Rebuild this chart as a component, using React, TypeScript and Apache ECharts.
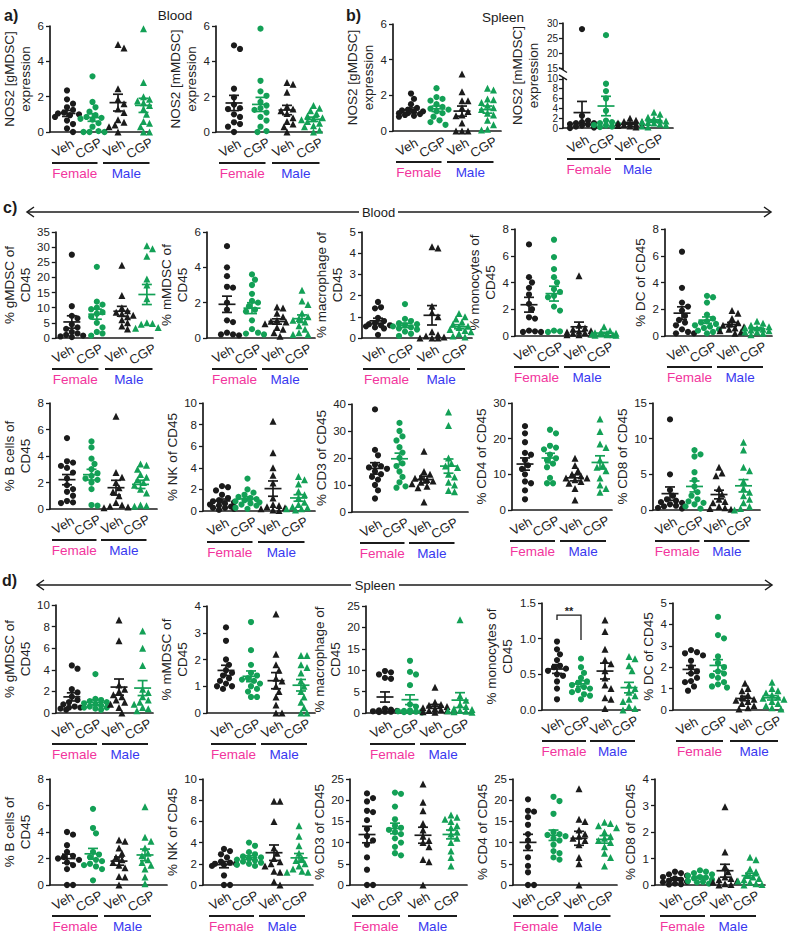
import React, { useEffect, useRef } from 'react';
import * as echarts from 'echarts';

const FONT = "'Liberation Sans', Arial, Helvetica, sans-serif";
const BLACK = '#1b1b1b';
const GREEN = '#13a056';
const PINK = '#f2359d';
const BLUE = '#3838f0';

const TREATMENTS = ['Veh', 'CGP', 'Veh', 'CGP'];
const SEXES = ['Female', 'Male'];

// ---------- data: [Female Veh, Female CGP, Male Veh, Male CGP] ----------
const bloodNos2G = [
  [2.35, 1.85, 1.6, 1.4, 1.25, 1.1, 1.05, 1.0, 0.95, 0.85, 0.65, 0.45, 0.2, 0.0],
  [3.15, 1.7, 1.4, 1.15, 0.95, 0.85, 0.8, 0.75, 0.7, 0.5, 0.3, 0.05, 0.0, 0.0, 0.0],
  [4.95, 4.75, 2.45, 1.85, 1.6, 1.3, 1.1, 0.7, 0.55, 0.4, 0.3, 0.0],
  [5.85, 2.8, 2.0, 1.85, 1.75, 1.65, 1.5, 1.3, 1.0, 0.6, 0.5, 0.3, 0.0, 0.0],
];
const bloodNos2M = [
  [4.9, 4.7, 2.45, 1.95, 1.55, 1.35, 1.3, 1.0, 0.85, 0.55, 0.45, 0.3, 0.0],
  [5.85, 2.9, 2.3, 2.05, 1.7, 1.5, 1.25, 1.35, 1.1, 0.85, 0.65, 0.3, 0.05, 0.0],
  [2.8, 2.7, 2.25, 1.45, 1.3, 1.2, 1.05, 0.8, 0.6, 0.45, 0.3, 0.0],
  [1.5, 1.35, 1.2, 1.05, 0.9, 0.8, 0.75, 0.7, 0.6, 0.5, 0.35, 0.3, 0.1, 0.0],
];
const spleenNos2G = [
  [2.1, 1.8, 1.5, 1.3, 1.2, 1.15, 1.1, 1.05, 1.0, 1.0, 0.95, 0.9, 0.85, 0.8],
  [2.4, 1.9, 1.8, 1.7, 1.5, 1.35, 1.25, 1.2, 1.1, 1.0, 0.8, 0.6, 0.5, 0.35],
  [3.2, 2.2, 1.7, 1.7, 1.3, 1.1, 0.9, 0.85, 0.45, 0.0, 0.0, 0.0],
  [2.4, 2.3, 1.8, 1.75, 1.6, 1.45, 1.3, 1.2, 1.0, 0.9, 0.6, 0.35, 0.1, 0.05],
];
const spleenNos2M = [
  [28, 2.5, 1.5, 1.2, 1.0, 1.0, 0.8, 0.7, 0.5, 0.3, 0.1, 0.0],
  [26, 9.0, 7.5, 6.0, 3.5, 1.5, 1.2, 1.0, 0.8, 0.6, 0.5, 0.3, 0.2],
  [2.0, 1.6, 1.3, 1.2, 1.0, 0.9, 0.8, 0.7, 0.6, 0.5, 0.4, 0.2],
  [3.2, 2.8, 2.2, 1.9, 1.6, 1.4, 1.3, 1.1, 1.0, 0.8, 0.6, 0.4, 0.2],
];
const bloodGMDSC = [
  [27.5, 10.5, 7.3, 6.5, 4.5, 3.5, 3.0, 2.0, 1.5, 1.0, 0.8, 0.5, 0.3],
  [23.5, 12, 11, 10, 9.5, 8.5, 8, 7, 5, 3.5, 2, 1.5, 0.8],
  [24, 14, 10, 9, 8.5, 8, 7.5, 7, 6, 5, 4, 3],
  [30.5, 29.5, 27, 19.5, 17.5, 13, 5, 4.8, 4.5, 3.5, 3.2],
];
const bloodMMDSC = [
  [5.2, 4.0, 3.5, 2.9, 2.85, 2.0, 1.6, 1.0, 0.9, 0.3, 0.2, 0.2, 0.15],
  [3.6, 3.3, 3.0, 2.5, 2.1, 2.0, 1.8, 1.6, 1.5, 1.0, 0.5, 0.3, 0.25, 0.2],
  [1.75, 1.7, 1.4, 1.2, 1.0, 0.95, 0.9, 0.8, 0.6, 0.5, 0.3, 0.1],
  [2.7, 2.1, 1.9, 1.4, 1.2, 1.1, 1.0, 0.9, 0.7, 0.5, 0.3, 0.2, 0.2],
];
const bloodMacrophage = [
  [1.7, 1.45, 1.4, 0.95, 0.8, 0.7, 0.65, 0.6, 0.6, 0.55, 0.5, 0.45, 0.15],
  [1.6, 0.9, 0.8, 0.7, 0.65, 0.6, 0.55, 0.5, 0.45, 0.4, 0.3, 0.2, 0.1],
  [4.3, 4.25, 1.5, 1.2, 1.0, 0.3, 0.15, 0.1, 0.05, 0.0, 0.0, 0.0],
  [1.15, 1.0, 0.9, 0.75, 0.65, 0.55, 0.5, 0.4, 0.35, 0.3, 0.2, 0.1, 0.05],
];
const bloodMonocytes = [
  [6.85, 4.4, 4.0, 3.6, 3.1, 2.4, 2.0, 1.4, 1.3, 0.4, 0.35, 0.3, 0.3],
  [7.2, 5.9, 5.0, 4.4, 4.0, 3.5, 3.3, 3.0, 2.9, 2.2, 1.9, 0.4, 0.35, 0.3],
  [4.5, 0.8, 0.6, 0.5, 0.4, 0.35, 0.3, 0.25, 0.2, 0.15, 0.1, 0.1],
  [0.7, 0.4, 0.3, 0.25, 0.2, 0.2, 0.15, 0.15, 0.1, 0.1, 0.05, 0.05],
];
const bloodDC = [
  [6.3, 3.6, 2.5, 2.2, 1.9, 1.5, 1.2, 1.0, 0.8, 0.5, 0.3, 0.2, 0.2],
  [3.0, 2.9, 2.5, 1.6, 1.3, 1.1, 1.0, 0.9, 0.8, 0.7, 0.6, 0.5, 0.4, 0.3, 0.2],
  [1.9, 1.7, 1.3, 1.0, 0.9, 0.8, 0.7, 0.6, 0.5, 0.4, 0.3, 0.2],
  [1.1, 0.95, 0.8, 0.7, 0.6, 0.6, 0.5, 0.45, 0.4, 0.3, 0.3, 0.2, 0.1],
];
const bloodB = [
  [5.35, 3.6, 3.5, 3.25, 3.1, 2.75, 2.3, 1.8, 1.5, 1.3, 1.0, 0.6, 0.5, 0.45],
  [5.1, 4.65, 3.8, 3.4, 3.0, 2.7, 2.5, 2.3, 2.2, 2.0, 1.5, 0.3, 0.25],
  [7.0, 2.75, 2.4, 2.0, 1.6, 1.3, 1.0, 0.5, 0.3, 0.2, 0.15, 0.1],
  [3.4, 3.3, 3.0, 2.6, 2.4, 2.2, 2.0, 1.8, 1.5, 1.2, 0.3, 0.25, 0.2],
];
const bloodNK = [
  [2.3, 2.2, 1.9, 1.5, 1.2, 1.0, 0.9, 0.8, 0.7, 0.6, 0.5, 0.4, 0.3, 0.3, 0.2, 0.1],
  [3.0, 2.0, 1.7, 1.5, 1.3, 1.2, 1.1, 1.0, 0.9, 0.8, 0.7, 0.6, 0.5, 0.3, 0.2],
  [8.3, 5.4, 4.0, 3.3, 2.6, 1.2, 0.6, 0.5, 0.4, 0.3, 0.2, 0.1, 0.05],
  [3.2, 2.9, 2.5, 1.8, 1.5, 1.2, 0.8, 0.6, 0.4, 0.3, 0.2, 0.2, 0.1],
];
const bloodCD3 = [
  [38, 23, 21, 17.5, 17, 16.5, 16, 15, 14, 13, 12, 10, 8, 5],
  [33, 30, 28, 26.5, 24, 22, 20, 18, 17, 15, 13, 11, 9.5, 9],
  [22.5, 15, 14, 13, 12.5, 12, 11.5, 11, 10.5, 9.5, 9, 3.7],
  [37, 32, 20, 18, 17, 16.5, 14, 13, 11, 10, 8, 7.5],
];
const bloodCD4 = [
  [23.5, 21.5, 19, 16, 15.5, 14, 12.5, 11.5, 10, 8, 7.5, 5.5, 3],
  [22.5, 21.5, 18, 17.5, 17, 15.5, 14.5, 14, 13, 12, 9, 7.5, 7.5],
  [14.5, 12.5, 11, 10, 9.5, 9, 9, 8.5, 8, 7.5, 6, 2.8],
  [25.5, 22, 18.5, 17.5, 14, 12.5, 12, 11, 9, 7, 6, 5],
];
const bloodCD8 = [
  [12.7, 5.0, 2.8, 2.0, 1.5, 1.3, 1.1, 1.0, 0.8, 0.6, 0.5, 0.3, 0.2],
  [8.4, 7.8, 7.5, 5.3, 4.2, 3.3, 2.5, 2.0, 1.5, 1.2, 1.0, 0.8, 0.5, 0.2],
  [6.0, 5.2, 4.8, 3.0, 2.2, 1.5, 1.2, 1.0, 0.5, 0.3, 0.2, 0.1],
  [9.5, 8.4, 6.0, 5.5, 4.0, 3.0, 2.5, 2.0, 1.5, 1.0, 0.5, 0.2, 0.0],
];
const spleenGMDSC = [
  [4.4, 4.1, 2.2, 1.9, 1.5, 1.2, 1.0, 0.8, 0.6, 0.5, 0.5, 0.4, 0.3],
  [3.6, 1.3, 1.2, 1.1, 1.0, 0.9, 0.8, 0.7, 0.6, 0.5, 0.5, 0.4, 0.3],
  [8.6, 6.7, 2.6, 2.2, 2.0, 1.7, 1.5, 1.2, 1.0, 0.8, 0.5, 0.0],
  [7.6, 6.0, 4.4, 2.2, 1.9, 1.5, 1.2, 1.0, 0.8, 0.5, 0.4, 0.2],
];
const spleenMMDSC = [
  [3.2, 2.7, 2.0, 1.8, 1.6, 1.5, 1.4, 1.3, 1.2, 1.1, 1.0, 1.0, 0.9],
  [3.4, 2.35, 1.8, 1.5, 1.4, 1.3, 1.25, 1.2, 1.1, 1.0, 0.9, 0.8, 0.6, 0.6],
  [3.7, 2.2, 1.8, 1.6, 1.3, 1.2, 1.0, 0.8, 0.6, 0.3, 0.0, 0.0],
  [2.15, 2.15, 1.8, 1.7, 1.5, 1.2, 1.0, 0.8, 0.6, 0.4, 0.2, 0.0, 0.0],
];
const spleenMacrophage = [
  [9.8, 9.5, 9.0, 8.2, 8.0, 1.0, 0.8, 0.6, 0.5, 0.4, 0.3, 0.3, 0.2],
  [12.2, 9.6, 9.0, 6.5, 2.0, 1.5, 0.6, 0.5, 0.4, 0.4, 0.3, 0.2, 0.2, 0.1],
  [6.0, 2.5, 2.0, 1.8, 1.5, 1.2, 1.0, 0.8, 0.6, 0.5, 0.3, 0.2],
  [21.8, 4.0, 3.0, 2.0, 1.5, 1.0, 0.8, 0.6, 0.5, 0.4, 0.3, 0.2],
];
const spleenMonocytes = [
  [0.96, 0.85, 0.78, 0.7, 0.62, 0.6, 0.58, 0.55, 0.5, 0.48, 0.4, 0.3, 0.15],
  [0.72, 0.6, 0.52, 0.45, 0.4, 0.38, 0.35, 0.32, 0.3, 0.28, 0.25, 0.22, 0.2, 0.15],
  [1.26, 1.1, 0.85, 0.7, 0.65, 0.55, 0.45, 0.35, 0.3, 0.17, 0.15, 0.02],
  [0.75, 0.72, 0.62, 0.55, 0.35, 0.3, 0.25, 0.2, 0.15, 0.12, 0.05, 0.02, 0.0],
];
const spleenDC = [
  [2.8, 2.7, 2.65, 2.55, 2.3, 2.0, 1.8, 1.7, 1.5, 1.35, 1.3, 1.1, 0.9],
  [4.35, 3.5, 3.35, 2.5, 2.2, 2.0, 1.8, 1.7, 1.6, 1.5, 1.3, 1.2, 1.1, 1.05],
  [1.25, 1.0, 0.9, 0.7, 0.6, 0.5, 0.45, 0.4, 0.3, 0.2, 0.1, 0.05],
  [1.3, 1.0, 0.9, 0.8, 0.7, 0.6, 0.55, 0.5, 0.4, 0.3, 0.2, 0.1, 0.05],
];
const spleenB = [
  [4.0, 3.8, 3.0, 2.5, 2.2, 2.1, 2.0, 1.9, 1.7, 1.5, 1.2, 0.0, 0.0],
  [5.75, 4.3, 3.9, 2.5, 2.3, 2.1, 1.9, 1.8, 1.6, 1.5, 1.4, 1.2, 0.35],
  [3.4, 3.3, 2.8, 2.4, 2.1, 1.9, 1.7, 1.5, 1.3, 0.65, 0.6, 0.0],
  [5.9, 3.6, 3.3, 2.8, 2.4, 2.2, 1.9, 1.7, 1.5, 1.2, 0.6, 0.1],
];
const spleenNK = [
  [3.4, 3.2, 2.9, 2.6, 2.2, 2.1, 2.0, 2.0, 1.9, 1.8, 0.9, 0.0, 0.0],
  [4.0, 3.7, 3.1, 2.9, 2.7, 2.6, 2.5, 2.4, 2.3, 2.2, 2.1, 2.0, 1.9, 1.8],
  [7.9, 7.9, 6.0, 3.5, 3.0, 2.5, 2.2, 2.0, 1.8, 1.3, 1.2, 0.3, 0.0],
  [5.6, 4.6, 3.7, 3.0, 2.5, 2.3, 2.0, 1.8, 1.5, 1.3, 1.2, 1.2],
];
const spleenCD3 = [
  [21.6, 20.5, 19.7, 17.5, 17.2, 15.3, 13.2, 11.5, 10.5, 9.5, 6.5, 3.6, 0.0, 0.0],
  [21.8, 21.5, 18.5, 15.5, 14, 13.5, 13, 12.5, 12, 11, 10, 9, 7.5, 7.0],
  [23.8, 19.5, 17.5, 14.5, 13, 11.5, 10.5, 10, 9.0, 6.0, 5.5, 0.0],
  [16.5, 16, 15.5, 15, 14, 13.5, 12.5, 12, 11, 10, 8, 6.5, 4.5],
];
const spleenCD4 = [
  [20.2, 17.5, 17.3, 16.0, 14.2, 12.0, 10.5, 9.0, 6.5, 4.5, 3.0, 0.0, 0.0],
  [20.8, 19.8, 16.8, 12.5, 12.0, 11.8, 11.5, 11.0, 10.5, 9.5, 8.0, 7.5, 6.5, 6.0],
  [22.7, 15.5, 15.0, 13.0, 12.0, 11.5, 11.0, 10.5, 9.5, 6.5, 5.0, 0.0],
  [14.8, 14.5, 14.0, 13.5, 12.5, 11.5, 11.0, 10.5, 10.0, 9.0, 7.5, 6.5, 4.5],
];
const spleenCD8 = [
  [0.5, 0.45, 0.4, 0.35, 0.3, 0.25, 0.2, 0.15, 0.12, 0.1, 0.05, 0.03, 0.02],
  [0.55, 0.5, 0.45, 0.4, 0.35, 0.3, 0.28, 0.25, 0.2, 0.15, 0.12, 0.1, 0.05],
  [2.95, 1.25, 0.7, 0.5, 0.3, 0.25, 0.2, 0.15, 0.1, 0.05, 0.02, 0.0],
  [1.05, 0.95, 0.6, 0.5, 0.4, 0.3, 0.25, 0.2, 0.15, 0.1, 0.05, 0.02, 0.0],
];

// broken axis tick labels (panel b, mMDSC)
const BREAK_TICKS = [0, 2, 4, 6, 8, 10, 15, 20, 25, 30];
// significance bracket (spleen monocytes): top, left leg end, right leg end
const SIG_BRACKET = [1.33, 1.26, 0.98];

type Panel = {
  name: string; data: number[][]; max: number; interval: number;
  left: number; top: number; width: number; height: number; off: number; step: number;
  decimals?: number; broken?: boolean; sig?: boolean;
};

const PANELS: Panel[] = [
  { name: 'NOS2 [gMDSC]\nexpression', data: bloodNos2G, max: 6, interval: 2, left: 50, top: 26, width: 100, height: 106, off: 17, step: 25.5 },
  { name: 'NOS2 [mMDSC]\nexpression', data: bloodNos2M, max: 6, interval: 2, left: 216, top: 26, width: 106, height: 106, off: 18, step: 26.5 },
  { name: 'NOS2 [gMDSC]\nexpression', data: spleenNos2G, max: 6, interval: 2, left: 393, top: 24, width: 108, height: 107, off: 18, step: 25.5 },
  { name: 'NOS2 [mMDSC]\nexpression', data: spleenNos2M, max: 30, interval: 5, left: 563, top: 23, width: 110, height: 105, off: 19, step: 24, broken: true },

  { name: '% gMDSC of\nCD45', data: bloodGMDSC, max: 35, interval: 5, left: 50, top: 232, width: 103, height: 106, off: 17, step: 26.5 },
  { name: '% mMDSC of\nCD45', data: bloodMMDSC, max: 6, interval: 2, left: 207, top: 232, width: 108, height: 106, off: 20, step: 25 },
  { name: '% macrophage of\nCD45', data: bloodMacrophage, max: 5, interval: 1, left: 362, top: 232, width: 110, height: 106, off: 16, step: 27 },
  { name: '% monocytes of\nCD45', data: bloodMonocytes, max: 8, interval: 2, left: 515, top: 229, width: 102, height: 107, off: 14, step: 25 },
  { name: '% DC of CD45', data: bloodDC, max: 8, interval: 2, left: 665, top: 229, width: 107, height: 107, off: 17, step: 25 },

  { name: '% B cells of\nCD45', data: bloodB, max: 8, interval: 2, left: 50, top: 403, width: 107, height: 106, off: 17, step: 24.5 },
  { name: '% NK of CD45', data: bloodNK, max: 10, interval: 2, left: 203, top: 403, width: 112, height: 108, off: 19, step: 25.5 },
  { name: '% CD3 of CD45', data: bloodCD3, max: 40, interval: 10, left: 352, top: 404, width: 116, height: 108, off: 23, step: 24.5 },
  { name: '% CD4 of CD45', data: bloodCD4, max: 30, interval: 10, left: 512, top: 403, width: 100, height: 107, off: 13, step: 25 },
  { name: '% CD8 of CD45', data: bloodCD8, max: 15, interval: 5, left: 653, top: 403, width: 107, height: 107, off: 17, step: 24.5 },

  { name: '% gMDSC of\nCD45', data: spleenGMDSC, max: 10, interval: 2, left: 50, top: 605, width: 103, height: 108, off: 17, step: 25 },
  { name: '% mMDSC of\nCD45', data: spleenMMDSC, max: 4, interval: 1, left: 207, top: 606, width: 108, height: 107, off: 19, step: 25 },
  { name: '% macrophage of\nCD45', data: spleenMacrophage, max: 25, interval: 5, left: 366, top: 606, width: 107, height: 107, off: 19, step: 25 },
  { name: '% monocytes of\nCD45', data: spleenMonocytes, max: 1.5, interval: 0.5, left: 542, top: 603, width: 98, height: 107, off: 15, step: 24, decimals: 1, sig: true },
  { name: '% DC of CD45', data: spleenDC, max: 5, interval: 1, left: 673, top: 603, width: 110, height: 107, off: 18, step: 27 },

  { name: '% B cells of\nCD45', data: spleenB, max: 8, interval: 2, left: 50, top: 779, width: 117, height: 106, off: 17, step: 26 },
  { name: '% NK of CD45', data: spleenNK, max: 10, interval: 2, left: 203, top: 779, width: 110, height: 106, off: 21, step: 25 },
  { name: '% CD3 of CD45', data: spleenCD3, max: 25, interval: 5, left: 350, top: 779, width: 117, height: 106, off: 17, step: 28 },
  { name: '% CD4 of CD45', data: spleenCD4, max: 25, interval: 5, left: 513, top: 779, width: 104, height: 106, off: 15, step: 25.5 },
  { name: '% CD8 of CD45', data: spleenCD8, max: 4, interval: 1, left: 655, top: 779, width: 110, height: 106, off: 20, step: 25 },
];

function brk(v: number) {
  return v <= 10 ? v : 12.1 + (v - 15) * 0.617;
}

function stats(vals: number[]) {
  const n = vals.length;
  const m = vals.reduce((a, b) => a + b, 0) / n;
  const sd = Math.sqrt(vals.reduce((a, b) => a + (b - m) * (b - m), 0) / (n - 1));
  return { mean: m, sem: sd / Math.sqrt(n) };
}

// simple beeswarm: horizontal pixel offsets so markers do not overlap
function swarm(ys: number[], D: number, stepPx: number): number[] {
  const order = ys.map((_, i) => i).sort((a, b) => ys[b] - ys[a]);
  const placed: { x: number; y: number }[] = [];
  const out = new Array(ys.length).fill(0);
  const cand = [0, 1, -1, 2, -2, 3, -3, 4, -4];
  for (const i of order) {
    const y = ys[i];
    let best = 0;
    let bestC = Infinity;
    for (const k of cand) {
      const x = k * stepPx;
      let c = 0;
      for (const p of placed) {
        const dx = x - p.x;
        const dy = y - p.y;
        const d2 = dx * dx + dy * dy;
        if (d2 < D * D) c += D * D - d2;
      }
      if (c === 0) { best = x; bestC = 0; break; }
      if (c < bestC) { bestC = c; best = x; }
    }
    placed.push({ x: best, y });
    out[i] = best;
  }
  return out;
}

function txt(text: string, x: number, y: number, fill: string, size: number, align = 'center', weight = 'normal', rotation = 0): any {
  return {
    type: 'text', x, y, rotation, silent: true,
    style: {
      text, fill, fontSize: size, fontFamily: FONT, fontWeight: weight,
      textAlign: align, textVerticalAlign: 'middle', align, verticalAlign: 'middle',
    },
  };
}
function seg(x1: number, y1: number, x2: number, y2: number, w = 1.5): any {
  return { type: 'line', silent: true, shape: { x1, y1, x2, y2 }, style: { stroke: BLACK, lineWidth: w } };
}
function arrow(xL: number, xR: number, y: number, textL: number, textR: number, label: string, labelX: number): any[] {
  return [
    seg(xL, y, textL, y, 1.4),
    seg(textR, y, xR, y, 1.4),
    { type: 'polyline', silent: true, shape: { points: [[xL + 7, y - 5], [xL, y], [xL + 7, y + 5]] }, style: { stroke: BLACK, lineWidth: 1.5, fill: 'none' } },
    { type: 'polyline', silent: true, shape: { points: [[xR - 7, y - 5], [xR, y], [xR - 7, y + 5]] }, style: { stroke: BLACK, lineWidth: 1.5, fill: 'none' } },
    txt(label, labelX, y, BLACK, 13),
  ];
}

function buildOption(): any {
  const grid: any[] = [];
  const xAxis: any[] = [];
  const yAxis: any[] = [];
  const series: any[] = [];
  const graphic: any[] = [];

  PANELS.forEach((p, i) => {
    const T = p.broken ? brk : (v: number) => v;
    const yMax = p.broken ? brk(30) : p.max;
    const ky = p.height / yMax;
    const xmin = -p.off / p.step;
    const xmax = (p.width - p.off) / p.step;
    const bottom = p.top + p.height;
    const gx = (g: number) => p.left + p.off + g * p.step;
    const yPix = (v: number) => p.top + p.height * (1 - T(v) / yMax);

    grid.push({ left: p.left, top: p.top, width: p.width, height: p.height });

    xAxis.push({
      type: 'value', gridIndex: i, min: xmin, max: xmax,
      axisLine: { show: true, onZero: false, lineStyle: { color: BLACK, width: 1.7 } },
      axisTick: { show: false },
      splitLine: { show: false },
      axisLabel: { show: false },
    });

    const labelStrs = p.broken
      ? BREAK_TICKS.map(String)
      : Array.from({ length: Math.round(p.max / p.interval) + 1 }, (_, k) => (k * p.interval).toFixed(p.decimals ?? 0));
    const fs = p.broken ? 10 : 11.5;
    const labelW = labelStrs.reduce((w, s) => Math.max(w, [...s].reduce((a, c) => a + (c === '.' ? 0.28 : 0.556) * fs, 0)), 0);
    const nameGap = 6 + labelW + 4;

    const yAx: any = {
      type: 'value', gridIndex: i, min: 0, max: yMax,
      axisLine: { show: true, onZero: false, lineStyle: { color: BLACK, width: 1.7 } },
      axisTick: { show: true, length: 4, lineStyle: { color: BLACK, width: 1.3 } },
      splitLine: { show: false },
      axisLabel: {
        fontSize: fs, color: '#222', fontFamily: FONT, margin: 6,
        formatter: (v: number) => v.toFixed(p.decimals ?? 0),
      },
      name: p.name, nameLocation: 'middle', nameGap,
      nameTextStyle: { fontSize: 13.5, color: '#222', fontFamily: FONT, lineHeight: 16 },
    };
    if (p.broken) {
      const pos = BREAK_TICKS.map(brk);
      yAx.axisLabel.customValues = pos;
      yAx.axisTick.customValues = pos;
      yAx.axisLabel.margin = 5;
      yAx.axisLabel.formatter = (v: number) => {
        const k = pos.findIndex((q) => Math.abs(q - v) < 1e-6);
        return k >= 0 ? String(BREAK_TICKS[k]) : '';
      };
    } else {
      yAx.interval = p.interval;
    }
    yAxis.push(yAx);

    // points
    p.data.forEach((vals, g) => {
      const offs = swarm(vals.map((v) => T(v) * ky), 5.8, 3);
      series.push({
        type: 'scatter', xAxisIndex: i, yAxisIndex: i, clip: false, silent: true, z: 2,
        symbol: g < 2 ? 'circle' : 'triangle',
        symbolSize: g < 2 ? 6.2 : 7,
        itemStyle: { color: g % 2 === 0 ? BLACK : GREEN, opacity: 1 },
        data: vals.map((v, j) => [g + offs[j] / p.step, T(v)]),
      });
    });

    // mean +/- SEM
    const msData = p.data.map((vals, g) => {
      const s = stats(vals);
      return [g, T(s.mean), T(Math.max(0, s.mean - s.sem)), T(s.mean + s.sem), g];
    });
    series.push({
      type: 'custom', xAxisIndex: i, yAxisIndex: i, coordinateSystem: 'cartesian2d', clip: false, silent: true, z: 3,
      encode: { x: 0, y: 1 },
      data: msData,
      renderItem: (_params: any, api: any) => {
        const x = api.value(0);
        const pm = api.coord([x, api.value(1)]);
        const pl = api.coord([x, api.value(2)]);
        const ph = api.coord([x, api.value(3)]);
        const color = api.value(4) % 2 === 0 ? BLACK : GREEN;
        const st = { stroke: color, lineWidth: 1.7 };
        return {
          type: 'group',
          children: [
            { type: 'line', shape: { x1: pm[0] - 8.5, y1: pm[1], x2: pm[0] + 8.5, y2: pm[1] }, style: st },
            { type: 'line', shape: { x1: pm[0], y1: pl[1], x2: pm[0], y2: ph[1] }, style: st },
            { type: 'line', shape: { x1: pm[0] - 5, y1: pl[1], x2: pm[0] + 5, y2: pl[1] }, style: st },
            { type: 'line', shape: { x1: pm[0] - 5, y1: ph[1], x2: pm[0] + 5, y2: ph[1] }, style: st },
          ],
        };
      },
    });

    // rotated treatment labels under each group
    TREATMENTS.forEach((t, g) => {
      graphic.push(txt(t, gx(g) - 4, bottom + 16, '#222', 13, 'center', 'normal', Math.PI / 6));
    });

    // sex group bars + labels
    const fa = gx(0) - 15, fb = gx(1) + 5;
    const ma = gx(2) - 15, mb = gx(3) + 6;
    graphic.push({ type: 'rect', silent: true, shape: { x: fa, y: bottom + 30, width: fb - fa, height: 2 }, style: { fill: BLACK } });
    graphic.push({ type: 'rect', silent: true, shape: { x: ma, y: bottom + 30, width: mb - ma, height: 2 }, style: { fill: BLACK } });
    graphic.push(txt(SEXES[0], (fa + fb) / 2, bottom + 41.5, PINK, 13.5));
    graphic.push(txt(SEXES[1], (ma + mb) / 2, bottom + 41.5, BLUE, 13.5));

    if (p.broken) {
      const y10 = yPix(10);
      const y15 = yPix(15);
      graphic.push({ type: 'rect', silent: true, shape: { x: p.left - 3, y: y15 + 1.5, width: 6, height: y10 - y15 - 3 }, style: { fill: '#fff' }, z: 100 });
      graphic.push({ ...seg(p.left - 4, y15 - 1, p.left + 4, y15 + 4, 1.4), z: 101 });
      graphic.push({ ...seg(p.left - 4, y10 - 4, p.left + 4, y10 + 1, 1.4), z: 101 });
    }
    if (p.sig) {
      const xa = gx(0), xb = gx(1);
      const yt = yPix(SIG_BRACKET[0]);
      graphic.push({
        type: 'polyline', silent: true,
        shape: { points: [[xa, yPix(SIG_BRACKET[1])], [xa, yt], [xb, yt], [xb, yPix(SIG_BRACKET[2])]] },
        style: { stroke: BLACK, lineWidth: 1.3, fill: 'none' },
      });
      graphic.push(txt('**', (xa + xb) / 2, yt - 4, BLACK, 11, 'center', 'bold'));
    }
  });

  // panel letters, titles and arrows
  graphic.push(txt('a)', 4, 15, BLACK, 16, 'left', 'bold'));
  graphic.push(txt('Blood', 175, 15, BLACK, 13.5));
  graphic.push(txt('b)', 346, 15, BLACK, 16, 'left', 'bold'));
  graphic.push(txt('Spleen', 503, 17, BLACK, 13.5));
  graphic.push(txt('c)', 3, 207, BLACK, 16, 'left', 'bold'));
  graphic.push(...arrow(27, 771, 212, 359, 398, 'Blood', 378.5));
  graphic.push(txt('d)', 2, 580, BLACK, 16, 'left', 'bold'));
  graphic.push(...arrow(37, 772, 585, 351, 399, 'Spleen', 375));

  return {
    animation: false,
    backgroundColor: '#ffffff',
    textStyle: { fontFamily: FONT },
    grid, xAxis, yAxis, series, graphic,
  };
}

export default function App() {
  const ref = useRef<HTMLDivElement>(null);
  useEffect(() => {
    if (!ref.current) return;
    const chart = echarts.init(ref.current, null, { renderer: 'svg' });
    chart.setOption(buildOption());
    return () => chart.dispose();
  }, []);
  return (
    <div
      ref={ref}
      style={{ position: 'absolute', left: 0, top: 0, width: 788, height: 933, background: '#fff' }}
    />
  );
}
